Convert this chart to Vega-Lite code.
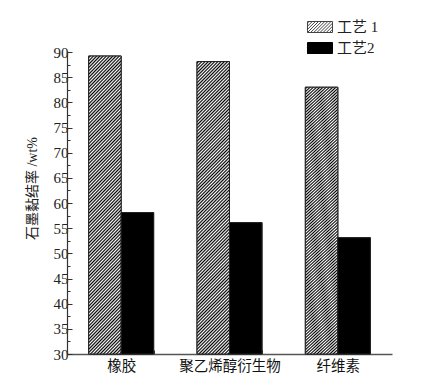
{
  "$schema": "https://vega.github.io/schema/vega-lite/v6.json",
  "width": 325,
  "height": 302,
  "autosize": {"type": "none"},
  "padding": {"left": 67, "top": 52, "right": 29, "bottom": 30},
  "background": "white",
  "config": {"view": {"stroke": null}, "font": "Liberation Serif, Noto Sans CJK SC"},
  "data": {"values": [
    {"material": "橡胶", "process": "工艺 1", "value": 89.2},
    {"material": "橡胶", "process": "工艺2", "value": 58.1},
    {"material": "聚乙烯醇衍生物", "process": "工艺 1", "value": 88.1},
    {"material": "聚乙烯醇衍生物", "process": "工艺2", "value": 56.1},
    {"material": "纤维素", "process": "工艺 1", "value": 83.0},
    {"material": "纤维素", "process": "工艺2", "value": 53.1}
  ]},
  "encoding": {
    "x": {
      "field": "material", "type": "nominal", "sort": null,
      "scale": {"paddingInner": 0.4, "paddingOuter": 0.2},
      "axis": {"title": null, "labelAngle": 0, "tickBand": "extent", "tickSize": -4, "tickColor": "#333", "domainColor": "#555", "domainWidth": 1.5, "labelFont": "Noto Sans CJK SC", "labelFontSize": 14.5, "labelColor": "#111", "labelPadding": 9}
    },
    "xOffset": {"field": "process", "type": "nominal", "scale": {"domain": ["工艺 1", "工艺2"], "paddingInner": 0, "paddingOuter": 0}},
    "y": {
      "field": "value", "type": "quantitative",
      "scale": {"domain": [30, 90], "nice": false, "zero": false},
      "axis": {
        "title": "石墨黏结率 /wt%", "titleFont": "Liberation Serif, Noto Sans CJK SC", "titleFontSize": 14, "titleFontWeight": "normal", "titleColor": "#222", "titleX": -35, "titleY": 136, "titleBaseline": "middle", "titleAngle": -90,
        "grid": false,
        "values": [30, 32.5, 35, 37.5, 40, 42.5, 45, 47.5, 50, 52.5, 55, 57.5, 60, 62.5, 65, 67.5, 70, 72.5, 75, 77.5, 80, 82.5, 85, 87.5, 90],
        "labelExpr": "datum.value % 5 === 0 ? datum.label : ''",
        "labelFont": "Liberation Serif", "labelFontSize": 15, "labelColor": "#222", "labelPadding": 4, "labelOverlap": false, "labelFlush": false,
        "tickSize": {"condition": {"test": "datum.value % 5 === 0", "value": -5}, "value": -3},
        "tickColor": "#333", "domainColor": "#333", "domainWidth": 1.2
      }
    },
    "y2": {"datum": 30}
  },
  "layer": [
    {
      "mark": {"type": "bar", "stroke": "#222", "strokeWidth": 1},
      "encoding": {
        "fill": {
          "field": "process", "type": "nominal",
          "scale": {"domain": ["工艺 1", "工艺2"], "range": ["#fff", "#000"]},
          "legend": {
            "title": null, "orient": "none", "legendX": 240, "legendY": -38, "padding": 0,
            "symbolType": "M-1,-0.44H1V0.44H-1Z M-1,-0.31L-0.87,-0.44 M-1,-0.06L-0.62,-0.44 M-1,0.19L-0.37,-0.44 M-1,0.44L-0.12,-0.44 M-0.75,0.44L0.13,-0.44 M-0.5,0.44L0.38,-0.44 M-0.25,0.44L0.63,-0.44 M0,0.44L0.88,-0.44 M0.25,0.44L1,-0.31 M0.5,0.44L1,-0.06 M0.75,0.44L1,0.19",
            "symbolSize": 625, "symbolStrokeColor": "#444", "symbolStrokeWidth": 1,
            "labelFont": "Liberation Serif, Noto Sans CJK SC", "labelFontSize": 15, "labelColor": "#222", "labelOffset": 4, "rowPadding": -6,
            "encode": {"symbols": {"update": {
              "opacity": {"value": 1},
              "stroke": [{"test": "datum.value === '工艺2'", "value": "#000"}, {"value": "#444"}],
              "strokeWidth": {"value": 1}
            }}}
          }
        }
      }
    },
    {
      "mark": {"type": "bar", "stroke": "#222", "strokeWidth": 1},
      "encoding": {
        "fill": {
          "condition": {"test": "datum.process === '工艺 1'", "value": {"gradient": "linear", "x1": 0, "y1": 0, "x2": 0.1231, "y2": 1.0982, "stops": [
          {"offset":0,"color":"#fff"},{"offset":0.005,"color":"#000"},{"offset":0.01,"color":"#fff"},{"offset":0.015,"color":"#000"},{"offset":0.02,"color":"#fff"},{"offset":0.025,"color":"#000"},{"offset":0.03,"color":"#fff"},{"offset":0.035,"color":"#000"},{"offset":0.04,"color":"#fff"},{"offset":0.045,"color":"#000"},
          {"offset":0.05,"color":"#fff"},{"offset":0.055,"color":"#000"},{"offset":0.06,"color":"#fff"},{"offset":0.065,"color":"#000"},{"offset":0.07,"color":"#fff"},{"offset":0.075,"color":"#000"},{"offset":0.08,"color":"#fff"},{"offset":0.085,"color":"#000"},{"offset":0.09,"color":"#fff"},{"offset":0.095,"color":"#000"},
          {"offset":0.1,"color":"#fff"},{"offset":0.105,"color":"#000"},{"offset":0.11,"color":"#fff"},{"offset":0.115,"color":"#000"},{"offset":0.12,"color":"#fff"},{"offset":0.125,"color":"#000"},{"offset":0.13,"color":"#fff"},{"offset":0.135,"color":"#000"},{"offset":0.14,"color":"#fff"},{"offset":0.145,"color":"#000"},
          {"offset":0.15,"color":"#fff"},{"offset":0.155,"color":"#000"},{"offset":0.16,"color":"#fff"},{"offset":0.165,"color":"#000"},{"offset":0.17,"color":"#fff"},{"offset":0.175,"color":"#000"},{"offset":0.18,"color":"#fff"},{"offset":0.185,"color":"#000"},{"offset":0.19,"color":"#fff"},{"offset":0.195,"color":"#000"},
          {"offset":0.2,"color":"#fff"},{"offset":0.205,"color":"#000"},{"offset":0.21,"color":"#fff"},{"offset":0.215,"color":"#000"},{"offset":0.22,"color":"#fff"},{"offset":0.225,"color":"#000"},{"offset":0.23,"color":"#fff"},{"offset":0.235,"color":"#000"},{"offset":0.24,"color":"#fff"},{"offset":0.245,"color":"#000"},
          {"offset":0.25,"color":"#fff"},{"offset":0.255,"color":"#000"},{"offset":0.26,"color":"#fff"},{"offset":0.265,"color":"#000"},{"offset":0.27,"color":"#fff"},{"offset":0.275,"color":"#000"},{"offset":0.28,"color":"#fff"},{"offset":0.285,"color":"#000"},{"offset":0.29,"color":"#fff"},{"offset":0.295,"color":"#000"},
          {"offset":0.3,"color":"#fff"},{"offset":0.305,"color":"#000"},{"offset":0.31,"color":"#fff"},{"offset":0.315,"color":"#000"},{"offset":0.32,"color":"#fff"},{"offset":0.325,"color":"#000"},{"offset":0.33,"color":"#fff"},{"offset":0.335,"color":"#000"},{"offset":0.34,"color":"#fff"},{"offset":0.345,"color":"#000"},
          {"offset":0.35,"color":"#fff"},{"offset":0.355,"color":"#000"},{"offset":0.36,"color":"#fff"},{"offset":0.365,"color":"#000"},{"offset":0.37,"color":"#fff"},{"offset":0.375,"color":"#000"},{"offset":0.38,"color":"#fff"},{"offset":0.385,"color":"#000"},{"offset":0.39,"color":"#fff"},{"offset":0.395,"color":"#000"},
          {"offset":0.4,"color":"#fff"},{"offset":0.405,"color":"#000"},{"offset":0.41,"color":"#fff"},{"offset":0.415,"color":"#000"},{"offset":0.42,"color":"#fff"},{"offset":0.425,"color":"#000"},{"offset":0.43,"color":"#fff"},{"offset":0.435,"color":"#000"},{"offset":0.44,"color":"#fff"},{"offset":0.445,"color":"#000"},
          {"offset":0.45,"color":"#fff"},{"offset":0.455,"color":"#000"},{"offset":0.46,"color":"#fff"},{"offset":0.465,"color":"#000"},{"offset":0.47,"color":"#fff"},{"offset":0.475,"color":"#000"},{"offset":0.48,"color":"#fff"},{"offset":0.485,"color":"#000"},{"offset":0.49,"color":"#fff"},{"offset":0.495,"color":"#000"},
          {"offset":0.5,"color":"#fff"},{"offset":0.505,"color":"#000"},{"offset":0.51,"color":"#fff"},{"offset":0.515,"color":"#000"},{"offset":0.52,"color":"#fff"},{"offset":0.525,"color":"#000"},{"offset":0.53,"color":"#fff"},{"offset":0.535,"color":"#000"},{"offset":0.54,"color":"#fff"},{"offset":0.545,"color":"#000"},
          {"offset":0.55,"color":"#fff"},{"offset":0.555,"color":"#000"},{"offset":0.56,"color":"#fff"},{"offset":0.565,"color":"#000"},{"offset":0.57,"color":"#fff"},{"offset":0.575,"color":"#000"},{"offset":0.58,"color":"#fff"},{"offset":0.585,"color":"#000"},{"offset":0.59,"color":"#fff"},{"offset":0.595,"color":"#000"},
          {"offset":0.6,"color":"#fff"},{"offset":0.605,"color":"#000"},{"offset":0.61,"color":"#fff"},{"offset":0.615,"color":"#000"},{"offset":0.62,"color":"#fff"},{"offset":0.625,"color":"#000"},{"offset":0.63,"color":"#fff"},{"offset":0.635,"color":"#000"},{"offset":0.64,"color":"#fff"},{"offset":0.645,"color":"#000"},
          {"offset":0.65,"color":"#fff"},{"offset":0.655,"color":"#000"},{"offset":0.66,"color":"#fff"},{"offset":0.665,"color":"#000"},{"offset":0.67,"color":"#fff"},{"offset":0.675,"color":"#000"},{"offset":0.68,"color":"#fff"},{"offset":0.685,"color":"#000"},{"offset":0.69,"color":"#fff"},{"offset":0.695,"color":"#000"},
          {"offset":0.7,"color":"#fff"},{"offset":0.705,"color":"#000"},{"offset":0.71,"color":"#fff"},{"offset":0.715,"color":"#000"},{"offset":0.72,"color":"#fff"},{"offset":0.725,"color":"#000"},{"offset":0.73,"color":"#fff"},{"offset":0.735,"color":"#000"},{"offset":0.74,"color":"#fff"},{"offset":0.745,"color":"#000"},
          {"offset":0.75,"color":"#fff"},{"offset":0.755,"color":"#000"},{"offset":0.76,"color":"#fff"},{"offset":0.765,"color":"#000"},{"offset":0.77,"color":"#fff"},{"offset":0.775,"color":"#000"},{"offset":0.78,"color":"#fff"},{"offset":0.785,"color":"#000"},{"offset":0.79,"color":"#fff"},{"offset":0.795,"color":"#000"},
          {"offset":0.8,"color":"#fff"},{"offset":0.805,"color":"#000"},{"offset":0.81,"color":"#fff"},{"offset":0.815,"color":"#000"},{"offset":0.82,"color":"#fff"},{"offset":0.825,"color":"#000"},{"offset":0.83,"color":"#fff"},{"offset":0.835,"color":"#000"},{"offset":0.84,"color":"#fff"},{"offset":0.845,"color":"#000"},
          {"offset":0.85,"color":"#fff"},{"offset":0.855,"color":"#000"},{"offset":0.86,"color":"#fff"},{"offset":0.865,"color":"#000"},{"offset":0.87,"color":"#fff"},{"offset":0.875,"color":"#000"},{"offset":0.88,"color":"#fff"},{"offset":0.885,"color":"#000"},{"offset":0.89,"color":"#fff"},{"offset":0.895,"color":"#000"},
          {"offset":0.9,"color":"#fff"},{"offset":0.905,"color":"#000"},{"offset":0.91,"color":"#fff"},{"offset":0.915,"color":"#000"},{"offset":0.92,"color":"#fff"},{"offset":0.925,"color":"#000"},{"offset":0.93,"color":"#fff"},{"offset":0.935,"color":"#000"},{"offset":0.94,"color":"#fff"},{"offset":0.945,"color":"#000"},
          {"offset":0.95,"color":"#fff"},{"offset":0.955,"color":"#000"},{"offset":0.96,"color":"#fff"},{"offset":0.965,"color":"#000"},{"offset":0.97,"color":"#fff"},{"offset":0.975,"color":"#000"},{"offset":0.98,"color":"#fff"},{"offset":0.985,"color":"#000"},{"offset":0.99,"color":"#fff"},{"offset":0.995,"color":"#000"},
          {"offset":1,"color":"#fff"}
          ]}},
          "value": "#000"
        }
      }
    }
  ]
}
